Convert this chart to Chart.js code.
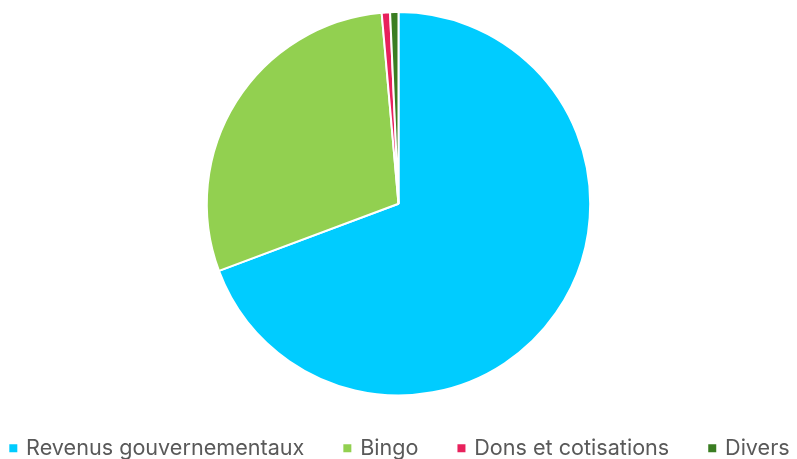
<!DOCTYPE html>
<html>
<head>
<meta charset="utf-8">
<script src="https://cdn.jsdelivr.net/npm/chart.js@4"></script>
<style>
  html, body { margin: 0; padding: 0; background: #fff; }
  #wrap { width: 797px; height: 459px; }
</style>
</head>
<body>
<div id="wrap"><canvas id="pie"></canvas></div>
<script>
// categories and shares (percent of total)
const labels = ['Revenus gouvernementaux', 'Bingo', 'Dons et cotisations', 'Divers'];
const values = [69.3, 29.3, 0.7, 0.7];
const colors = ['#00CCFF', '#92D050', '#E8215C', '#3A7D22'];

const ctx = document.getElementById('pie').getContext('2d');
new Chart(ctx, {
  type: 'pie',
  data: {
    labels: labels,
    datasets: [{
      data: values,
      backgroundColor: colors,
      borderColor: '#ffffff',
      borderWidth: 2
    }]
  },
  options: {
    responsive: true,
    maintainAspectRatio: false,
    animation: false,
    // negative side padding so the single-row legend is not wrapped
    layout: { padding: { top: 11, bottom: -10, left: -41, right: -45 } },
    plugins: {
      tooltip: { enabled: false },
      legend: {
        position: 'bottom',
        labels: {
          usePointStyle: true,
          pointStyle: 'rect',
          boxWidth: 4,
          boxHeight: 8,
          padding: 41,
          color: '#595959',
          font: { family: 'Inter', size: 21.6 },
          // solid squares, without the white slice border
          generateLabels(chart) {
            const items = Chart.overrides.pie.plugins.legend.labels.generateLabels(chart);
            items.forEach(item => { item.lineWidth = 0; });
            return items;
          }
        }
      }
    }
  }
});
</script>
</body>
</html>
